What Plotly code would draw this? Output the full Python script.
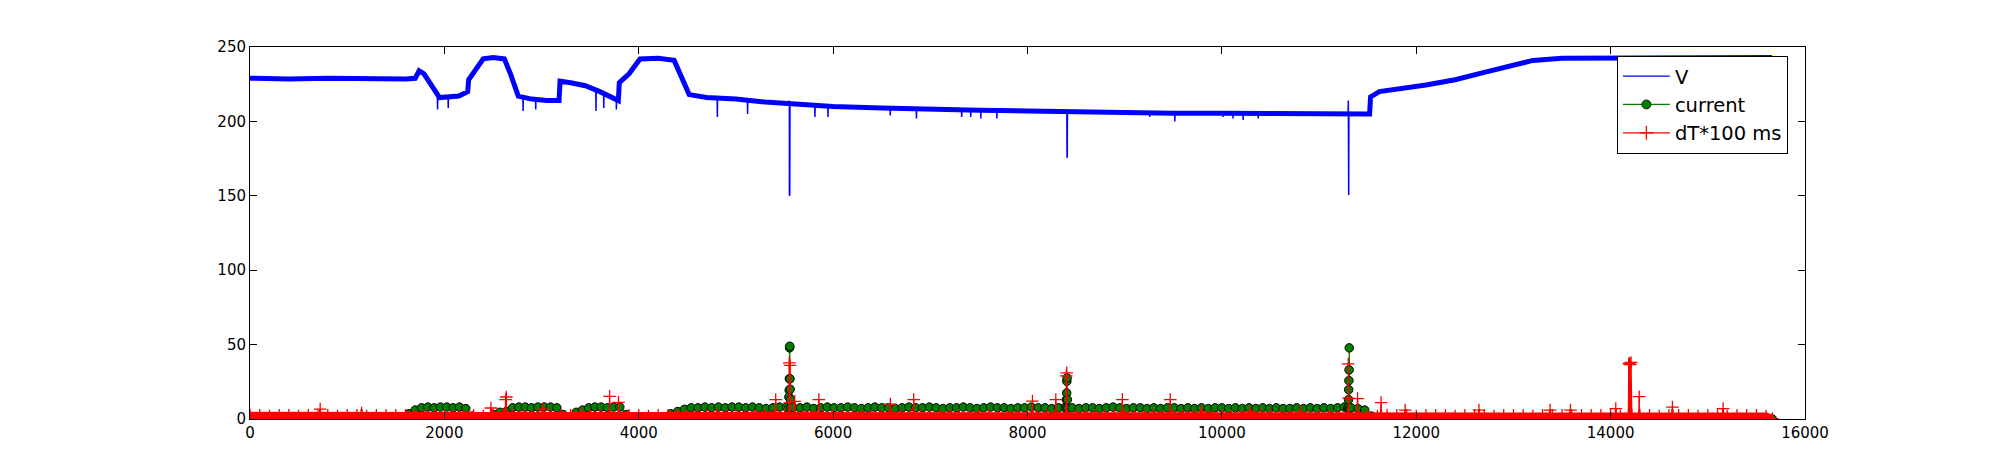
import numpy as np
import plotly.graph_objects as go

# Voltage (V): slow profile, sample index vs volts
v_x = [0, 400, 800, 1200, 1600, 1700, 1740, 1790, 1850, 1900,
       1950, 2150, 2240, 2250, 2320, 2400, 2500, 2617, 2680, 2760,
       2900, 3050, 3180, 3190, 3300, 3450, 3600, 3690, 3790, 3800,
       3900, 4013, 4200, 4364, 4440, 4519, 4700, 5000, 5300, 5550,
       6000, 6500, 7000, 7500, 8000, 8400, 9000, 9500, 10000, 10500,
       11000, 11520, 11530, 11620, 12100, 12400, 12700, 13000, 13200, 13500,
       14000, 14500, 15000, 15660]
v_y = [229, 228.5, 229, 228.5, 228.5, 229, 234, 232, 226, 220,
       216, 217, 220, 228, 235, 242, 243, 242, 232, 217,
       215, 214, 214, 227, 226, 224, 220, 217, 214, 226,
       232, 242, 242.5, 241, 230, 218, 216, 215, 213, 212,
       210, 209, 208, 207.5, 207, 206.5, 206, 205.5, 205.5, 205.5,
       205, 205, 216.5, 220, 224.5, 228, 233, 238, 241, 242.5,
       242.5, 242.5, 243, 243]
# V dips (shoulder, dip, shoulder)
v_dip_x = [1928, 1930, 1932, 2038, 2040, 2042, 2808, 2810, 2812,
           2938, 2940, 2942, 3558, 3560, 3562, 3638, 3640, 3642,
           3768, 3770, 3772, 4807, 4809, 4811, 5118, 5120, 5122,
           5546, 5548, 5550, 5552, 5554, 5556, 5811, 5813, 5815,
           5945, 5947, 5949, 6586, 6588, 6590, 6855, 6857, 6859,
           7321, 7323, 7325, 7414, 7416, 7418, 7518, 7520, 7522,
           7683, 7685, 7687, 8405, 8407, 8409, 8411, 9255, 9257, 9259,
           9514, 9516, 9518, 10010, 10012, 10014, 10113, 10115, 10117,
           10217, 10219, 10221, 10372, 10374, 10376,
           11299, 11301, 11303, 11305, 11307]
v_dip_y = [217, 208, 217, 215.5, 209, 215.5, 216, 207, 216,
           215, 208, 215, 220.5, 207, 220.5, 219, 209, 219,
           215, 208, 215, 215.5, 203, 215.5, 214.5, 205, 214.5,
           212, 214, 151, 150, 152, 212, 210.5, 203, 210.5,
           210, 203, 210, 209, 204, 209, 208.5, 202, 208.5,
           207.5, 203, 207.5, 207.5, 203, 207.5, 207.5, 202, 207.5,
           207, 202, 207, 206.5, 176, 175.5, 206.5, 206, 203, 206,
           205.5, 200, 205.5, 205.5, 203, 205.5, 205.5, 202, 205.5,
           205.5, 201, 205.5, 205.5, 202, 205.5,
           205, 214, 151, 150.5, 205]

# Current readings: active stretches sampled at a fixed step
cur_seg_start = [1570, 2442, 3293, 4260]
cur_seg_step = [65, 65, 64, 70]
cur_seg_vals = [
    [1, 3.5, 6, 7.5, 8, 7.5, 8, 8, 7.5, 8, 7, 2],
    [1, 3, 4.5, 5, 7.5, 8, 8, 7.5, 8, 8, 8, 7.5, 3],
    [1, 4.5, 6, 7.5, 8, 8, 7.5, 8, 8, 3],
    [1, 3.5, 5, 6.5, 7.5, 7.5, 8, 7.5, 8, 7.5,
     8, 8, 7.5, 8, 7.5, 7, 7.5, 8, 8, 7.5,
     7.5, 8, 7, 7.5, 8, 7.5, 7.5, 8, 7.5, 7,
     7.5, 8, 7.5, 7.5, 7, 7.5, 8, 7.5, 7.5, 8,
     7.5, 7, 7.5, 7.5, 8, 7.5, 7, 7.5, 8, 7.5,
     7.5, 7, 7.5, 7.5, 8, 7.5, 7.5, 7, 7.5, 8,
     7.5, 7, 7.5, 7.5, 7, 7.5, 8, 7.5, 7, 7.5,
     7.5, 7, 7.5, 7, 7.5, 7.5, 7, 7.5, 7, 7.5,
     7, 7.5, 7.5, 7, 7.5, 7, 7.5, 7, 7.5, 7,
     7.5, 7, 7, 7.5, 7, 7.5, 7, 7.5, 7, 7.5,
     8, 7.5, 7, 6, 2],
]
# idle current and the three surges
cur_idle_x = [0, 800, 1500, 2370, 3260, 3950, 4150, 11620, 12500, 13500, 14500, 15664]
cur_idle_y = [0, 0, 0, 0, 0, 0, 0, 0, 0, 0, 0, 0]
cur_spike_x = [5540, 5545, 5548, 5550, 5552, 5554, 5556, 5558, 5560, 5565,
               8395, 8400, 8403, 8405, 8407, 8410, 8415,
               11295, 11300, 11303, 11305, 11307, 11309, 11311, 11315]
cur_spike_y = [7, 14.8, 19.3, 27, 47.8, 48.9, 27, 20, 13, 7,
               7, 13, 17.5, 25.3, 27.6, 13, 7,
               7, 8, 13, 19.7, 25.8, 33, 47.8, 7]

# dT*100 ms readings: baseline every 100 samples plus the spikes
dt_step = 100
dt_base = [2.5, 2.5, 2, 2.5, 2.5, 2, 2.5, 2.5, 2.5, 2,
           2.5, 2.5, 2, 2.5, 2.5, 2.5, 2.5, 2, 2.5, 2.5,
           2.5, 2, 2.5, 2.5, 2, 2.5, 3, 2.5, 2, 2.5,
           2.5, 2, 2.5, 2.5, 3, 2.5, 2.5, 2.5, 2, 2.5,
           2.5, 2, 2.5, 2.5, 2.5, 2, 2.5, 2.5, 3, 2.5,
           2.5, 2, 2.5, 2.5, 2.5, 3, 2.5, 2, 2.5, 2.5,
           2.5, 2, 2.5, 2.5, 2.5, 2, 2.5, 2.5, 3, 2.5,
           2, 2.5, 2.5, 2.5, 2, 2.5, 2.5, 2.5, 2, 2.5,
           2.5, 2.5, 3, 2.5, 2, 2.5, 2.5, 2.5, 2, 2.5,
           2.5, 2, 2.5, 2.5, 2.5, 2, 2.5, 2.5, 2.5, 2,
           2.5, 2.5, 2, 2.5, 2.5, 3, 2.5, 2.5, 2, 2.5,
           2.5, 2.5, 2, 2.5, 2.5, 2.5, 2, 2.5, 2.5, 2.5,
           2, 2.5, 2.5, 2.5, 2, 2.5, 2.5, 2.5, 2, 2.5,
           2.5, 2.5, 2, 2.5, 2.5, 2.5, 2, 2.5, 2.5, 2.5,
           2.5, 2, 2.5, 2.5, 2.5, 2, 2.5, 2.5, 2.5, 2,
           2.5, 2.5, 2, 2.5, 2.5, 2.5, 2]
dt_end_x = [15664]
dt_end_y = [0.3]
dt_spike_x = [718, 722, 726, 1144, 1148, 1152, 2475, 2479, 2483,
              2626, 2630, 2634, 2638, 2642, 3011, 3015, 3019,
              3696, 3700, 3704, 3788, 3792, 3796, 5405, 5409, 5413,
              5546, 5549, 5553, 5557, 5560, 5601, 5605, 5609,
              5849, 5853, 5857, 6585, 6589, 6593, 6825, 6829, 6833,
              8047, 8051, 8055, 8287, 8291, 8295, 8396, 8399, 8404, 8408,
              8972, 8976, 8980, 9465, 9469, 9473, 9782, 9786, 9790,
              10286, 10290, 10294, 10802, 10806, 10810,
              11296, 11300, 11304, 11307, 11392, 11396, 11400,
              11634, 11638, 11642, 11882, 11886, 11890, 12641, 12645, 12649,
              13373, 13377, 13381, 13583, 13587, 13591, 14049, 14053, 14057,
              14183, 14186, 14190, 14194, 14198, 14202, 14206, 14210, 14214, 14218,
              14290, 14294, 14298, 14632, 14636, 14640, 15153, 15157, 15161]
dt_spike_y = [2.5, 6.7, 2.5, 2.5, 4, 2.5, 2.5, 7.4, 2.5,
              2.5, 13, 2.5, 14.8, 2.5, 2.5, 6.7, 2.5,
              2.5, 15.2, 2.5, 2.5, 11.2, 2.5, 2.5, 13, 2.5,
              2.5, 37.7, 10.8, 36, 2.5, 2.5, 11.9, 2.5,
              2.5, 13, 2.5, 2.5, 10, 2.5, 2.5, 13, 2.5,
              2.5, 12, 2.5, 2.5, 13, 2.5, 2.5, 29, 31, 2.5,
              2.5, 13, 2.5, 2.5, 13, 2.5, 2.5, 5, 2.5,
              2.5, 5, 2.5, 2.5, 5, 2.5,
              2.5, 37, 14, 2.5, 2.5, 13.7, 2.5,
              2.5, 11, 2.5, 2.5, 6, 2.5, 2.5, 6, 2.5,
              2.5, 6, 2.5, 2.5, 6, 2.5, 2.5, 7, 2.5,
              2.5, 37, 2.5, 37.5, 2.5, 36.5, 2.5, 38, 2.5, 2.5,
              2.5, 15, 2.5, 2.5, 8, 2.5, 2.5, 7, 2.5]

# assemble the series (sorted by sample index)
def merged(xs, ys):
    order = np.argsort(xs, kind="stable")
    return np.array(xs)[order], np.array(ys)[order]

vx_all, vy_all = merged(v_x + v_dip_x, v_y + v_dip_y)

cx, cy = list(cur_idle_x) + list(cur_spike_x), list(cur_idle_y) + list(cur_spike_y)
for s, st, vals in zip(cur_seg_start, cur_seg_step, cur_seg_vals):
    cx += [s + st * i for i in range(len(vals))]
    cy += vals
cur_x, cur_y = merged(cx, cy)

dt_base_x = [i * dt_step for i in range(len(dt_base))] + dt_end_x
dt_base_y = dt_base + dt_end_y
dt_x, dt_y = merged(dt_base_x + dt_spike_x, dt_base_y + dt_spike_y)

fig = go.Figure()

# V: the noisy band (thick) plus the full line with its dips
fig.add_trace(go.Scatter(x=v_x, y=v_y, mode="lines", showlegend=False,
                         line=dict(color="#0000ff", width=5)))
fig.add_trace(go.Scatter(x=vx_all, y=vy_all, mode="lines", showlegend=False,
                         line=dict(color="#0000ff", width=1.5)))
# current
fig.add_trace(go.Scatter(x=cur_x, y=cur_y, mode="lines+markers", showlegend=False,
                         line=dict(color="#008000", width=1.25),
                         marker=dict(symbol="circle", size=8.5, color="#008000",
                                     line=dict(color="black", width=1))))
# dT*100 ms: dense baseline band underneath, then the line with + markers
fig.add_trace(go.Scatter(x=dt_base_x, y=dt_base_y, mode="lines", fill="tozeroy",
                         fillcolor="#ff0000", showlegend=False,
                         line=dict(color="#ff0000", width=7)))
fig.add_trace(go.Scatter(x=dt_x, y=dt_y, mode="lines+markers", showlegend=False,
                         line=dict(color="#ff0000", width=1.25),
                         marker=dict(symbol="cross-thin", size=9,
                                     line=dict(color="#ff0000", width=1.3))))

# legend entries
fig.add_trace(go.Scatter(x=[None], y=[None], mode="lines", name="V",
                         line=dict(color="#0000ff", width=1.25)))
fig.add_trace(go.Scatter(x=[None], y=[None], mode="lines+markers", name="current",
                         line=dict(color="#008000", width=1.25),
                         marker=dict(symbol="circle", size=9, color="#008000",
                                     line=dict(color="black", width=0.8))))
fig.add_trace(go.Scatter(x=[None], y=[None], mode="lines+markers", name="dT*100 ms",
                         line=dict(color="#ff0000", width=1.25),
                         marker=dict(symbol="cross-thin", size=10,
                                     line=dict(color="#ff0000", width=1.3))))

axis_style = dict(showgrid=False, zeroline=False, showline=True, linecolor="black",
                  linewidth=1, mirror="ticks", ticks="inside", ticklen=7,
                  tickcolor="black", tickwidth=1, tickformat="d",
                  tickfont=dict(family="DejaVu Sans", size=15, color="black"))

# the page adds an 8px body margin, so the figure is 8px smaller each way
fig.update_layout(
    width=1989, height=458,
    margin=dict(l=242, r=192, t=39, b=47),
    paper_bgcolor="white", plot_bgcolor="white",
    font=dict(family="DejaVu Sans", size=15, color="black"),
    xaxis=dict(range=[0, 16000], tickvals=list(range(0, 16001, 2000)), **axis_style),
    yaxis=dict(range=[0, 250], tickvals=list(range(0, 251, 50)), **axis_style),
    legend=dict(x=0.989, y=0.976, xanchor="right", yanchor="top",
                bgcolor="white", bordercolor="black", borderwidth=1,
                font=dict(family="DejaVu Sans", size=19.5, color="black"),
                itemwidth=47, tracegroupgap=0),
)

fig.write_html("out.html")
